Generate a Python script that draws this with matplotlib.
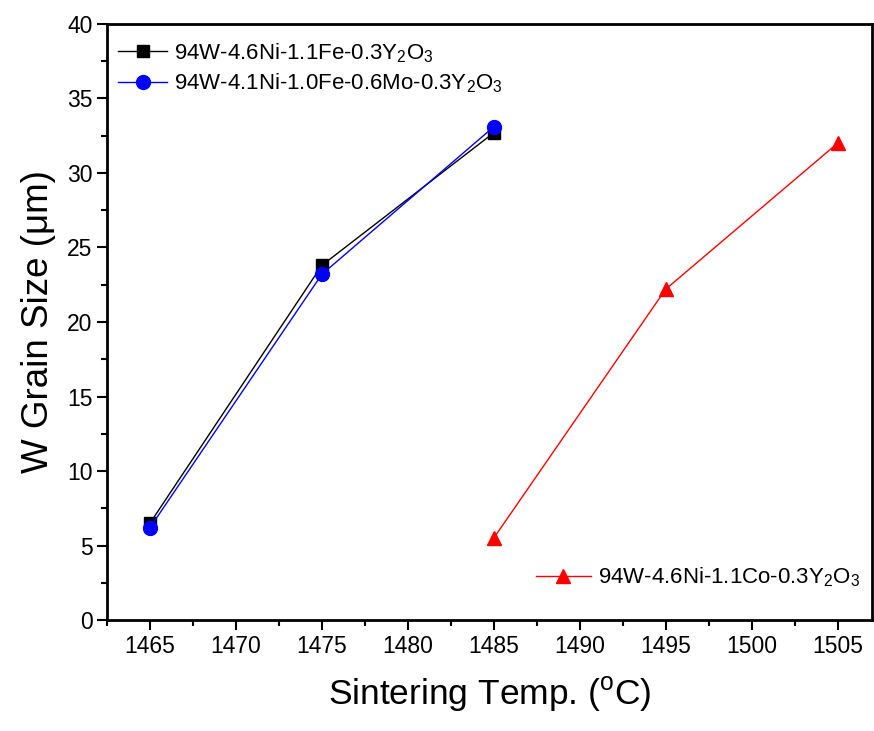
import numpy as np
import matplotlib
matplotlib.use('Agg')
import matplotlib.pyplot as plt
from matplotlib.ticker import MultipleLocator

plt.rcParams['font.family'] = ['Liberation Sans', 'DejaVu Sans']
plt.rcParams['mathtext.fontset'] = 'custom'
plt.rcParams['mathtext.rm'] = 'Liberation Sans'

temp_fe = [1465, 1475, 1485]
size_fe = [6.5, 23.8, 32.7]
temp_mo = [1465, 1475, 1485]
size_mo = [6.2, 23.2, 33.1]
temp_co = [1485, 1495, 1505]
size_co = [5.5, 22.2, 32.0]

lab_fe = r'94W-4.6Ni-1.1Fe-0.3Y$_\mathregular{2}$O$_\mathregular{3}$'
lab_mo = r'94W-4.1Ni-1.0Fe-0.6Mo-0.3Y$_\mathregular{2}$O$_\mathregular{3}$'
lab_co = r'94W-4.6Ni-1.1Co-0.3Y$_\mathregular{2}$O$_\mathregular{3}$'

fig = plt.figure(figsize=(8.74, 7.31), dpi=100)
ax = fig.add_axes([0.1224, 0.1518, 0.8753, 0.8154])

l1, = ax.plot(temp_fe, size_fe, '-s', color='black', lw=1, ms=9, label=lab_fe)
l2, = ax.plot(temp_mo, size_mo, '-o', color='blue', lw=1, ms=10, label=lab_mo)
l3, = ax.plot(temp_co, size_co, '-^', color='red', lw=1, ms=10, label=lab_co)

ax.set_xlim(1462.5, 1507)
ax.set_ylim(0, 40)
ax.xaxis.set_major_locator(MultipleLocator(5))
ax.xaxis.set_minor_locator(MultipleLocator(2.5))
ax.yaxis.set_major_locator(MultipleLocator(5))
ax.yaxis.set_minor_locator(MultipleLocator(2.5))
ax.tick_params(which='both', direction='out', width=1.5, labelsize=16.5)
ax.tick_params(which='major', length=7)
ax.tick_params(which='minor', length=4)
for s in ax.spines.values():
    s.set_linewidth(2)

ax.set_xlabel(r'Sintering Temp. ($^\mathregular{o}$C)', fontsize=25.5, labelpad=12)
ax.set_ylabel(u'W Grain Size (\u03bcm)', fontsize=26.5, labelpad=8)

leg1 = ax.legend(handles=[l1, l2], loc='upper left', frameon=False, fontsize=16,
                 handlelength=2.2, handletextpad=0.3, borderaxespad=0.1, labelspacing=0.3,
                 bbox_to_anchor=(0.0, 0.99))
ax.add_artist(leg1)
ax.legend(handles=[l3], loc='lower right', frameon=False, fontsize=16,
          handlelength=2.5, handletextpad=0.3, borderaxespad=0.0, borderpad=0.2,
          bbox_to_anchor=(0.99, 0.044))

fig.savefig('out.png', dpi=100)
